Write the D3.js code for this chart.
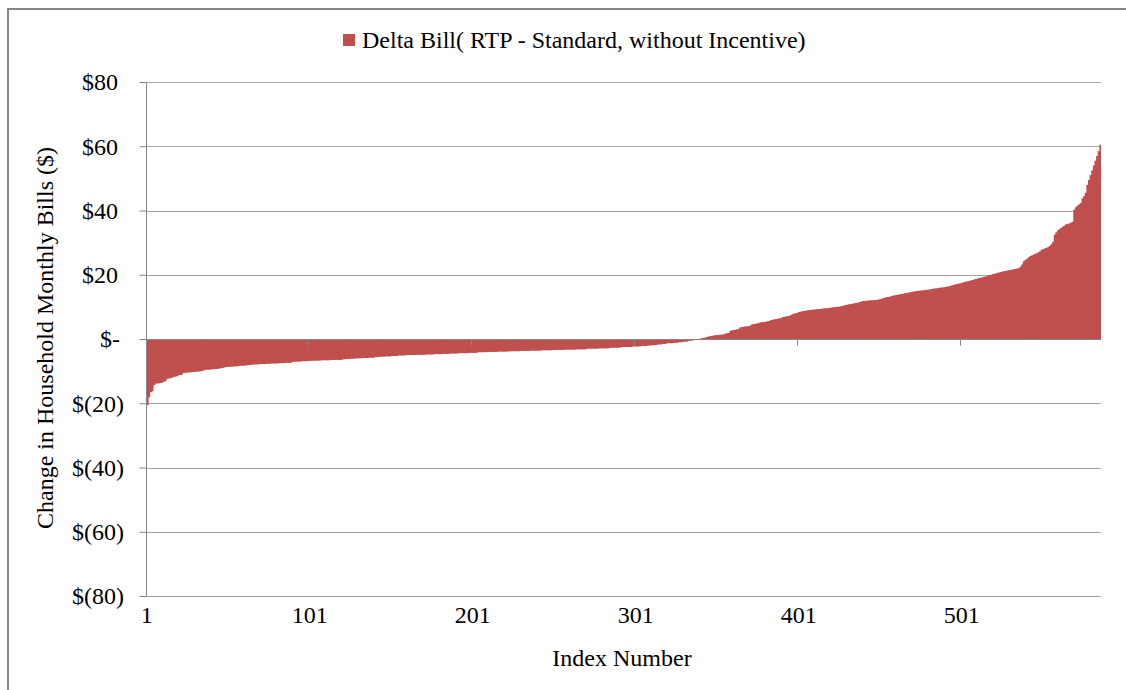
<!DOCTYPE html>
<html>
<head>
<meta charset="utf-8">
<script src="https://cdn.jsdelivr.net/npm/d3@7/dist/d3.min.js"></script>
<style>
  html, body { margin: 0; padding: 0; background: #ffffff; }
  svg { display: block; }
</style>
</head>
<body>
<svg id="chart" width="1126" height="690" font-family="'Liberation Serif', 'Times New Roman', serif"></svg>
<script>
// Monthly bill change per household (RTP minus Standard tariff, no incentive), sorted ascending
const deltaBill = [
  -20.6, -18.1, -16.5, -16.3, -14.4, -13.9, -13.8, -13.8, -13.7, -13.6,
  -13.3, -13.1, -12.4, -12.3, -12.2, -12.1, -11.8, -11.7, -11.6, -11.3,
  -11.2, -11.1, -10.6,
  -10.5, -10.5, -10.4, -10.4, -10.3, -10.3,
  -10.2, -10.2, -10.1, -10.1, -10.0, -9.9,
  -9.6, -9.6, -9.5, -9.5, -9.5, -9.4, -9.4, -9.3, -9.3, -9.2,
  -9.1, -9.0, -8.9,
  -8.7, -8.7, -8.6, -8.6, -8.6, -8.5, -8.5, -8.5, -8.4,
  -8.3, -8.3, -8.3, -8.2, -8.2, -8.1, -8.1, -8.0,
  -7.9, -7.9, -7.9, -7.9, -7.8, -7.8, -7.8, -7.8, -7.7, -7.7, -7.7,
  -7.6, -7.6, -7.6, -7.6, -7.6, -7.5, -7.5, -7.5, -7.5,
  -7.4, -7.4, -7.4, -7.4,
  -7.1, -7.1, -7.0, -7.0, -7.0, -7.0, -6.9, -6.9, -6.9, -6.9, -6.8, -6.8, -6.8,
  -6.7, -6.7, -6.7, -6.7, -6.7, -6.6, -6.6, -6.6, -6.6, -6.6, -6.6,
  -6.5, -6.5, -6.5, -6.5, -6.5, -6.5, -6.5,
  -6.3, -6.3, -6.2, -6.2, -6.2, -6.1, -6.1, -6.1,
  -6.0, -6.0, -6.0, -6.0, -5.9, -5.9, -5.9, -5.9, -5.8, -5.8, -5.8, -5.8,
  -5.6, -5.6, -5.6, -5.5, -5.5, -5.5,
  -5.4, -5.4, -5.4, -5.4, -5.3, -5.3, -5.3, -5.3,
  -5.1, -5.1, -5.1, -5.1, -5.1, -5.0, -5.0, -5.0, -5.0, -5.0, -5.0,
  -4.9, -4.9, -4.9, -4.9, -4.9, -4.9, -4.8, -4.8, -4.8, -4.8, -4.8,
  -4.7, -4.7, -4.7, -4.7, -4.7, -4.6, -4.6, -4.6, -4.6, -4.6,
  -4.5, -4.5, -4.5, -4.5, -4.5, -4.4, -4.4, -4.4, -4.4, -4.4, -4.4,
  -4.3, -4.3, -4.3, -4.3, -4.3, -4.3,
  -4.1, -4.1, -4.1, -4.1, -4.1, -4.1, -4.0, -4.0, -4.0, -4.0, -4.0, -4.0, -4.0,
  -3.9, -3.9, -3.9, -3.9, -3.9, -3.9, -3.8, -3.8, -3.8, -3.8, -3.8, -3.8, -3.8,
  -3.7, -3.7, -3.7, -3.7, -3.7, -3.7,
  -3.6, -3.6, -3.6, -3.6, -3.6, -3.6, -3.6, -3.5, -3.5, -3.5, -3.5, -3.5, -3.5, -3.5,
  -3.4, -3.4, -3.4, -3.4, -3.4, -3.4, -3.4,
  -3.3, -3.3, -3.3, -3.3, -3.3, -3.3, -3.3, -3.2, -3.2, -3.2, -3.2, -3.2, -3.2, -3.2,
  -3.0, -3.0, -3.0, -3.0, -3.0, -3.0, -3.0, -2.9, -2.9, -2.9, -2.9, -2.9, -2.9, -2.9,
  -2.7, -2.7, -2.7, -2.7, -2.7, -2.7, -2.7, -2.5, -2.5, -2.5, -2.5, -2.5, -2.5, -2.5,
  -2.3, -2.3, -2.3, -2.3, -2.3, -2.2, -2.2, -2.2, -2.2,
  -2.0, -2.0, -2.0, -1.9, -1.9, -1.9,
  -1.7, -1.7, -1.7, -1.5, -1.5, -1.5,
  -1.3, -1.3, -1.3, -1.3, -1.2, -1.2, -1.2,
  -1.0, -1.0, -1.0, -0.8, -0.8, -0.8,
  -0.6, -0.5, -0.5, -0.4, -0.3,
  -0.2, -0.1, 0.0,
  0.2, 0.3, 0.4, 0.5,
  0.7, 0.8, 0.9, 1.0,
  1.1, 1.2, 1.2, 1.3, 1.3, 1.4, 1.4,
  1.7, 1.8, 1.9,
  2.5, 2.7, 2.8, 2.9, 3.0, 3.1,
  3.6, 3.7, 3.8, 3.9, 3.9, 4.0, 4.1,
  4.5, 4.6, 4.7, 4.8, 4.9,
  5.1, 5.2, 5.3, 5.3, 5.4, 5.5, 5.6,
  5.9, 6.0, 6.1, 6.2, 6.3, 6.4, 6.5,
  6.8, 6.9, 7.0, 7.1, 7.2, 7.4,
  7.7, 7.9, 8.0, 8.1,
  8.4, 8.5, 8.6, 8.7, 8.8,
  8.9, 9.0, 9.0, 9.1, 9.1, 9.2, 9.2, 9.3, 9.3,
  9.4, 9.5, 9.5, 9.6, 9.6, 9.7, 9.8, 9.8, 9.9, 10.0, 10.0, 10.1, 10.2, 10.3,
  10.5, 10.6, 10.7, 10.8, 10.9, 11.0, 11.1, 11.2, 11.3, 11.4, 11.6,
  11.8, 11.8, 11.9, 11.9, 12.0, 12.0, 12.0, 12.1, 12.1, 12.2, 12.3, 12.4,
  12.6, 12.8, 12.9, 13.0, 13.1, 13.2,
  13.4, 13.5, 13.6, 13.7, 13.8, 13.9,
  14.0, 14.1, 14.2, 14.3, 14.4, 14.5, 14.6, 14.7,
  14.8, 14.9, 15.0, 15.0, 15.1, 15.1, 15.2, 15.3, 15.3, 15.4, 15.5,
  15.6, 15.7, 15.7, 15.8, 15.9, 16.0, 16.0, 16.1, 16.2, 16.3, 16.4, 16.5,
  16.7, 16.8, 17.0, 17.1, 17.2, 17.3,
  17.5, 17.6, 17.8, 17.9, 18.0, 18.1, 18.3, 18.4,
  18.6, 18.7, 18.9, 19.0, 19.1, 19.3, 19.4, 19.5, 19.7,
  19.9, 20.0, 20.2, 20.3, 20.4, 20.6, 20.7, 20.8,
  21.0, 21.1, 21.2, 21.3, 21.4, 21.5, 21.6, 21.7, 21.8, 21.9,
  22.1, 22.5, 23.2,
  24.2, 24.6, 25.0, 25.4, 25.8,
  26.0, 26.3, 26.5, 26.7, 27.0, 27.3,
  27.8, 28.0, 28.2, 28.4, 28.6, 29.0,
  29.5, 30.2,
  32.5, 33.2, 33.8,
  34.2, 34.6, 35.0, 35.3, 35.7,
  35.8, 36.0, 36.2, 36.5,
  40.3, 41.0, 41.5, 41.9, 42.3,
  43.8, 44.5, 45.5,
  48.0, 49.5,
  51.0, 52.5,
  54.0, 55.5,
  57.0, 58.5,
  60.5
];

// Axis tick values and their accounting-style labels
const yTickValues = [80, 60, 40, 20, 0, -20, -40, -60, -80];
const yTickLabels = ["$80", "$60", "$40", "$20", "$-", "$(20)", "$(40)", "$(60)", "$(80)"];
const xTickIndices = [1, 101, 201, 301, 401, 501];

const seriesName = "Delta Bill( RTP - Standard, without Incentive)";
const yTitle = "Change in Household Monthly Bills  ($)";
const xTitle = "Index Number";

const svg = d3.select("#chart");
const W = 1126, H = 690;
const plot = { left: 146, right: 1101, top: 82, bottom: 596 };
const barColor = "#c0504d";
const axisColor = "#868686";
const gridColor = "#a6a6a6";
const fontSize = 24;

// Outer chart frame (right and bottom edges run past the page)
svg.append("rect")
  .attr("x", 8).attr("y", 9)
  .attr("width", W + 10).attr("height", H + 10)
  .attr("fill", "#ffffff")
  .attr("stroke", axisColor).attr("stroke-width", 2);

const indices = deltaBill.map((d, i) => i + 1);
const x = d3.scaleBand().domain(indices).range([plot.left, plot.right]).padding(0);
const y = d3.scaleLinear().domain([-80, 80]).range([plot.bottom, plot.top]);

// Horizontal gridlines
svg.append("g")
  .selectAll("line")
  .data(yTickValues.filter(v => v !== 0))
  .join("line")
  .attr("x1", plot.left).attr("x2", plot.right)
  .attr("y1", d => Math.round(y(d)) + 0.5).attr("y2", d => Math.round(y(d)) + 0.5)
  .attr("stroke", gridColor).attr("stroke-width", 1);

// Bars (each overlaps its neighbour by one pixel so the fill stays solid)
svg.append("g")
  .selectAll("rect")
  .data(deltaBill)
  .join("rect")
  .attr("x", (d, i) => x(i + 1))
  .attr("width", (d, i) => i === deltaBill.length - 1 ? x.bandwidth() : x.bandwidth() + 1)
  .attr("y", d => y(Math.max(0, d)))
  .attr("height", d => Math.abs(y(d) - y(0)))
  .attr("fill", barColor);

// Y axis
const yAxis = d3.axisLeft(y)
  .tickValues(yTickValues)
  .tickSize(7)
  .tickFormat("");
const yg = svg.append("g")
  .attr("transform", `translate(${plot.left + 0.5},0)`)
  .call(yAxis);
yg.select(".domain").attr("stroke", axisColor).attr("d", `M0,${plot.top}V${plot.bottom}`);
yg.selectAll(".tick line").attr("stroke", axisColor);

// Y tick labels, accounting alignment (closing paren hangs to the right)
svg.append("g")
  .selectAll("text")
  .data(yTickValues)
  .join("text")
  .attr("x", d => d < 0 ? 124 : (d === 0 ? 120 : 118))
  .attr("y", d => y(d))
  .attr("dy", "0.35em")
  .attr("text-anchor", "end")
  .attr("font-size", fontSize)
  .attr("fill", "#000")
  .text((d, i) => yTickLabels[i]);

// X axis at zero with category ticks
const zeroY = Math.round(y(0)) + 0.5;
svg.append("line")
  .attr("x1", plot.left).attr("x2", plot.right)
  .attr("y1", zeroY).attr("y2", zeroY)
  .attr("stroke", axisColor).attr("stroke-width", 1);
svg.append("g")
  .selectAll("line")
  .data(xTickIndices.filter(i => i > 1))
  .join("line")
  .attr("x1", d => Math.round(x(d)) - 0.5).attr("x2", d => Math.round(x(d)) - 0.5)
  .attr("y1", zeroY).attr("y2", zeroY + 6)
  .attr("stroke", axisColor).attr("stroke-width", 1);

// X tick labels placed below the plot area
svg.append("g")
  .selectAll("text")
  .data(xTickIndices)
  .join("text")
  .attr("x", d => x(d) + x.bandwidth() / 2)
  .attr("y", 623)
  .attr("text-anchor", "middle")
  .attr("font-size", fontSize)
  .attr("fill", "#000")
  .text(d => d);

// Axis titles
svg.append("text")
  .attr("x", 622).attr("y", 666)
  .attr("text-anchor", "middle")
  .attr("font-size", fontSize)
  .attr("fill", "#000")
  .text(xTitle);

svg.append("text")
  .attr("transform", "translate(53,338) rotate(-90)")
  .attr("text-anchor", "middle")
  .attr("font-size", fontSize)
  .attr("fill", "#000")
  .text(yTitle);

// Legend
const legend = svg.append("g").attr("transform", "translate(343,34)");
legend.append("rect")
  .attr("x", 0).attr("y", 0)
  .attr("width", 12).attr("height", 12)
  .attr("fill", barColor);
legend.append("text")
  .attr("x", 19).attr("y", 6)
  .attr("dy", "0.35em")
  .attr("font-size", fontSize)
  .attr("fill", "#000")
  .text(seriesName);
</script>
</body>
</html>
